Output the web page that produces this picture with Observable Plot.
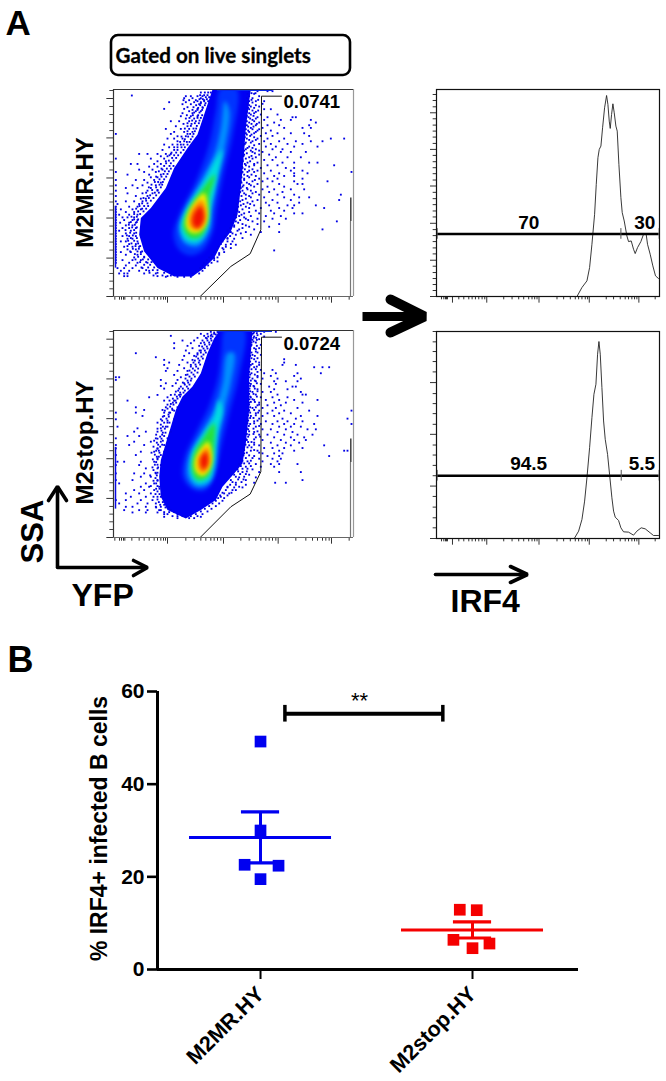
<!DOCTYPE html>
<html><head><meta charset="utf-8">
<script src="https://cdn.jsdelivr.net/npm/d3@7"></script>
<script src="https://cdn.jsdelivr.net/npm/@observablehq/plot@0.6"></script>
<style>html,body{margin:0;background:#fff}#fig{position:relative;width:666px;height:1081px;overflow:hidden}
#fig svg{position:absolute;overflow:visible;background:transparent}</style>
</head><body><div id="fig"></div>
<script>
// ---------- Flow cytometry: channel read-offs (x, y grow right, down) ----------
const pseudoColors = ["#0000f5","#0034ff","#0090ff","#00e0e0","#28e038","#f4f000","#ff8a00","#f01000"];
const contours1 = [
 [[636,262],[610,340],[590,400],[560,440],[520,500],[495,560],[450,620],[420,650],[415,700],[430,750],[470,800],[520,825],[575,825],[610,800],[640,770],[660,730],[690,690],[710,640],[720,560],[730,450],[735,380],[745,300],[750,262]],
 [[660,262],[645,330],[625,430],[585,540],[535,640],[518,700],[535,745],[570,762],[608,745],[636,690],[648,620],[668,520],[696,400],[708,262]],
 [[672,300],[660,380],[640,460],[600,540],[550,630],[535,680],[550,725],[590,735],[625,690],[632,620],[650,530],[672,440],[686,330]],
 [[664,445],[610,540],[555,630],[540,680],[555,715],[590,722],[620,680],[630,620],[647,540]],
 [[642,520],[600,570],[560,630],[548,680],[570,710],[600,705],[620,660],[625,590]],
 [[610,575],[570,620],[555,665],[565,690],[590,695],[615,670],[620,620]],
 [[603,595],[580,615],[565,650],[570,680],[590,685],[605,675],[615,640]],
 [[600,615],[578,640],[575,665],[585,680],[598,675],[610,650]]
];
const contours2 = [
 [[660,58],[640,85],[620,130],[600,190],[575,230],[545,260],[525,300],[510,350],[495,400],[480,450],[475,500],[480,560],[500,600],[555,625],[600,600],[645,570],[665,530],[700,490],[725,460],[735,400],[745,300],[745,200],[752,100],[755,58]],
 [[672,58],[662,120],[652,200],[624,290],[584,370],[552,440],[546,500],[572,535],[610,542],[636,510],[652,450],[668,380],[688,300],[714,200],[730,58]],
 [[680,130],[665,220],[640,300],[600,370],[565,440],[560,500],[585,530],[620,525],[645,470],[650,400],[670,300],[690,220],[700,130]],
 [[655,270],[640,320],[610,370],[575,430],[570,490],[590,520],[625,510],[640,450],[650,370],[665,300]],
 [[640,340],[610,380],[580,430],[575,485],[590,510],[620,500],[632,460],[640,400]],
 [[622,395],[600,415],[582,450],[585,485],[605,498],[625,480],[634,440]],
 [[618,410],[605,425],[592,445],[592,475],[605,488],[620,475],[628,445]],
 [[615,425],[608,432],[600,445],[600,465],[607,478],[617,470],[622,450]]
];
const gate1 = [[598,885],[690,795],[748,757],[780,685],[782,285],[842,285]];
const gate2 = [[598,682],[690,590],[748,552],[780,485],[782,82],[842,82]];
// each row: y channel, then the x channels of the sparse events on it
const events1 = [
[270,745,770,800,815],[278,740,760],[283,393],[285,555,570,590,605,745,775],[291,550,575,600,738,755],[297,548,565,585,610],[300,745,765,790],[303,505,555,580,600],[308,740,785],[309,545,570,595],[316,750,775],[318,560,578,605],[323,490,550,590],[324,745,790,810],[330,565,585,600],[332,738,765],[336,545,575],[340,750,780,830],[345,540,570,590],[348,743,770,800,875,885],[352,555,580],[356,755,790,840,870,930],[360,510,535,565,585],[364,745,775,820,945],[368,548,572],[372,738,765,800,835,925],[375,525,560],[380,750,785,850,905,930],[383,495,540,565],[388,742,770,810],[392,520,550,575],[396,735,760,795,830,870,910],[398,345,510,560],[404,748,780,815,925],[405,530,555],[412,500,520,545,738,770,800,850,990,1030],[420,530,550,755,790,835,885,930,965],[428,732,775,810,860,905],[430,490,515,540],[436,745,795,825,880,950],[438,505,530],[444,735,765,815,845],[446,485,520],[452,755,785,840,870,915],[458,415,440,470,495,510],[460,730,775,805],[465,480,500],[468,745,765,825,860,900],[472,345,450,490],[476,725,790,815],[480,470,495],[484,740,770,845,880,925,950],[488,390,410,460,480],[492,735,760,800,830,1000],[496,445,470],[500,725,780,855,880],[505,415,455,485],[508,745,770,810,870,905],[512,345,430,465,1052],[516,722,790,835,880,920],[520,380,445,480],[524,740,765,820,850,880],[528,450,470],[532,730,775,800,830,905],[536,345,405,430,460],[540,720,755,785,815,880,980],[544,440,480],[548,745,770,835,890,905],[552,345,395,425,465],[556,725,760,800,850],[560,375,410,450],[564,740,785,820,870,910],[568,345,440,470],[572,718,765,805,845],[576,380,425,455],[580,735,775,830,880,1020],[584,345,405,440],[588,750,790,850,895,925],[592,420,435],[596,725,770,815,870,1015],[600,345,375,400,425],[604,740,795,830,895],[608,350,415],[612,720,760,805,860,880,945],[616,345,385,410],[620,745,780,835,875,970],[624,345,360,395,420],[628,710,765,810,850],[632,345,375,400],[636,730,775,820,880,905],[640,345,355,385,410],[644,715,750,795,840],[648,345,365,380,400],[652,735,770,815,855],[656,345,370,395,410],[660,705,755,790,1008],[664,345,358,385,405],[668,725,770,835],[672,345,375,395],[676,700,745,805],[680,345,365,385,405],[684,715,760,965],[688,345,355,390],[692,690,735,780,835],[696,345,375,400],[700,705,750],[704,345,365,385,405],[710,680,725],[712,345,380,395],[720,345,360,375,410,695],[728,345,385,405],[730,675,705],[736,345,370,395,415],[740,665,690],[744,345,380,405],[747,820],[752,345,360,390,420],[755,655],[760,345,375,410],[768,345,400,430],[770,640],[776,345,365,395,420],[780,650],[784,345,385,410,440],[792,375,405],[800,350,370,395,425],[808,360,385,415,445],[816,355,370,380,430,465],[824,370,380,470,500]
];
const edge1 = [
[274,600,612,622,630],[282,598,610,620],[288,615,625],[294,596,606,618],[300,590,610,622],[306,600,614],[312,586,598,612],[320,592,606],[326,575,590,604],[334,580,596],[342,558,576,592,604],[350,566,590,600],[358,574,596],[366,560,582,594],[374,570,588],[382,552,578,586],[390,560,582],[398,568,578],[406,542,562,575],[414,552,570],[422,538,558,566],[430,530,548,560],[438,520,542,552],[446,530,548],[454,512,526,540],[462,506,520,532],[470,514,526],[478,504,518],[486,496,510],[494,490,506,518],[502,482,498,510],[510,474,492,504],[518,488,500],[526,466,482,496],[534,476,490],[542,462,472,486],[550,452,476,484],[558,444,466,480],[566,454,470],[574,436,462,474],[582,448,466],[590,428,444,458],[598,436,450],[606,424,440],[614,416,430,442],[622,406,424,436],[630,412,428],[638,400,418],[646,392,408],[654,400,412],[662,390,408],[670,384,402],[678,394,408],[686,374,400],[694,388,406],[702,378,396],[710,390,408],[718,382,400],[726,392,412],[734,380,404,418],[742,396,414],[750,388,410,424],[758,402,420],[766,412,430],[774,404,426,442],[782,418,436,452],[790,430,448],[798,422,442,460],[806,436,456,470],[814,446,470,490],[822,458,485,510],[826,495,530,550,570],
[276,752,764],[296,752,772],[304,755],[312,745,765],[320,742,760],[328,755,772],[336,745,760],[344,738,758],[352,748,765],[360,738,760],[368,752,768],[376,742,758],[384,735,755,775],[392,745,765],[400,738,752],[408,732,760],[416,745,765],[424,735,750],[432,728,760],[440,740,755],[448,730,750,775],[456,738,762],[464,728,752],[472,735,755],[480,726,748],[488,732,760],[496,724,745],[504,732,755],[512,725,740,760],[520,730,752],[528,722,745],[536,730,762],[544,722,738],[552,728,750],[560,720,738],[568,725,750],[576,715,730,755],[584,722,745],[592,712,735],[600,718,755],[608,708,728,748],[616,712,735],[624,705,725],[632,715,745],[640,700,722],[648,706,730],[656,698,718,742],[664,692,712],[672,700,735],[680,688,725],[688,680,710],[696,695,720],[704,672,688],[712,680,700],[720,665,680],[728,660,690],[736,652,675],[744,648,668],[752,640,670],[760,632,655],[768,625,650],[776,618,640],[784,610,632],[792,605,622],[800,598,612],[808,585,605],[816,575,595]
];
const events2 = [
[66,630,650,760,790,825],[72,600,620,640,755,780],[78,510,610,630],[80,760,790],[84,590,615],[88,750,775],[92,545,580,605],[95,758],[100,520,570,600],[105,752,780],[108,560,595],[115,520,575,760,775],[122,555,600],[125,765],[130,405,565,590],[135,755,780],[138,550,580],[142,465],[148,760,850],[150,490,545,575],[158,505,560,775,850],[165,490,535,570,750,775,845,885],[172,760,940,965,985],[175,500,550],[180,780,815],[183,495,530,560],[190,752,790,825,890,960],[195,520,555],[198,770,810,880],[202,345,355,540],[206,755,785,830,900],[210,345,480,530],[214,765,820,855,890],[220,495,525,550],[222,750,780,825],[228,480,515],[230,760,805,875,885],[236,490,535],[238,770,820,860],[245,525],[246,755,785,810,900],[254,765,830,905,915],[255,470,510,535],[262,445,500,750,780,815,860],[270,760,795,835,880,950],[272,380,490,520],[278,745,775,820,855,905],[282,510],[286,770,800,840],[292,405,495,530],[294,755,785,825,890],[300,430,485,515],[302,745,775,815,850,925,1052],[308,345,405,505],[310,765,800,835,870],[318,425,490,750,785,820,900,950],[326,740,775,845,885,1040],[328,345,480,520],[334,760,795,830,860,905],[338,470,500],[342,748,780,815,850,880,940,1052],[350,350,495,765,835,870,900],[355,410,480],[358,742,785,810,855,920,945],[365,400,435,470,510],[366,760,830,875],[374,745,775,800,850,890,935],[378,380,415,490],[382,765,820,870,910],[385,345,465,500],[390,738,785,840,880,915],[395,400,450,480],[398,760,810,855,895],[405,345,385,430,490],[406,745,775,830,870,970],[414,725,790,815,850,905],[415,345,470],[422,750,770,835,880,1030,1040],[425,420,460,490],[430,730,785,820,845],[435,345,405,480],[438,760,800,835,985],[445,470],[446,720,775,815,840],[454,740,785,830],[455,350,370,420,460],[462,715,765,810,835,890],[465,345,415,480],[470,735,780,820],[475,435,470],[478,710,755],[486,725,775,835,900],[490,345,400,430,465],[494,700,745],[500,420,450],[502,715,765],[510,345,395,470,690,735,905],[518,705,760,823,855],[520,355,435,460],[530,420,445,475,680,715],[540,400,430,460,695],[550,375,415,450,670,685],[560,390,435,470,660],[570,345,375,420,455],[580,355,410,440,465],[590,375,395,435,465,480],[600,370,415,440,475],[607,395,435,470],[612,490],[620,490,555,600]
];
const edge2 = [
[68,640,652],[74,632,645],[80,622,635],[86,618,630],[92,620,632],[98,610,625],[104,612,626],[110,604,618],[116,608,620],[122,596,612],[128,600,615],[134,590,608],[140,586,602],[146,592,606],[152,582,596],[158,578,594],[164,584,598],[170,570,586],[176,576,592],[182,566,582],[188,572,590],[194,560,578],[200,566,582],[206,554,572],[212,560,570],[218,546,562],[224,552,566],[230,540,558],[236,546,562],[242,532,552],[248,538,548],[254,522,540],[260,528,538],[266,516,530],[272,506,524],[278,516,526],[284,500,518],[290,508],[296,500,514],[302,492,520],[308,490,508],[314,503],[320,486,504],[326,497],[332,484,500],[338,490,506],[344,480],[350,486,500],[356,470,492],[362,482],[368,486,494],[374,466,484],[380,478],[386,470,482],[392,460,486],[398,468],[404,472,484],[410,458,478],[416,470],[422,466,474],[428,452,476],[434,462],[440,468,474],[448,456,470],[456,466],[464,462,470],[472,455,472],[480,458],[488,464,470],[496,448,468],[504,464],[512,458,470],[520,466],[528,450,470],[536,466,476],[544,470],[552,464,476],[560,458,480],[568,470],[576,474,486],[584,478,490],[592,466,494,505],[600,480,510],[606,490,505,520],[612,500,530],[618,515,530,545],[624,530,565,580],
[70,758,768],[76,752,770],[84,758,766],[90,755,768],[98,752,765],[108,750,768],[118,748,765],[128,752,770],[138,748,762],[145,752,770],[155,748,765],[162,755],[170,746,768],[178,752,765],[186,745,770],[194,748,762],[202,746,770],[212,750,762],[220,745,768],[228,748,758],[236,746,762],[244,748,770],[252,745,758],[260,748,768],[268,746,755],[276,750,762],[284,745,775],[292,748,765],[300,744,760],[308,748,772],[316,742,765],[324,748,758],[332,742,770],[340,740,760],[348,744,775],[356,738,758],[364,745,770],[372,738,758],[380,742,778],[388,736,760],[396,742,752],[404,734,760],[412,740,752],[420,730,760],[428,738,775],[436,728,745],[444,735,755],[452,725,750],[460,730,745],[468,720,750],[476,725,740],[484,712,738],[492,718,735],[500,705,730],[508,712,728],[516,695,722],[524,688,705,735],[532,680,700,725],[540,675,705],[548,665,692],[556,658,680],[564,652,670],[572,645,665],[580,635,655],[588,625,645],[596,612,632],[604,600,620],[612,585,605],[618,570,590]
];
const xTickMinor = [342,356,362,368,372,393,415,430,445,460,470,480,488,494,555,580,600,615,630,640,650,660,720,745,765,780,795,805,815,825,885,915,935,950,965,975,985,1045];
const xTickMajor = [500,668,832,992];
const yTickMajor1 = [292,410,530,650,770,885];
const yTickMinor1 = [268,316,340,364,388,434,458,482,506,554,578,602,626,674,698,722,746,793,816,839,862];
const yTickMajor2 = [88,207,326,446,565,682];
const yTickMinor2 = [65,112,136,160,184,231,255,279,303,350,374,398,422,470,494,518,542,589,612,635,658];

// ---------- IRF4 histograms ----------
const hist1 = [[258,677],[680,677],[695,650],[710,630],[718,590],[725,520],[733,430],[738,340],[743,260],[747,235],[752,225],[757,170],[763,110],[769,73],[773,100],[777,150],[780,172],[784,130],[788,98],[792,125],[797,165],[801,180],[806,280],[812,380],[816,425],[822,450],[830,495],[835,512],[843,510],[850,535],[855,548],[862,530],[872,512],[880,490],[888,490],[892,520],[900,550],[908,585],[916,615],[925,623]];
const hist2 = [[258,682],[672,682],[685,660],[695,625],[703,570],[710,500],[718,410],[725,320],[731,250],[737,220],[742,130],[746,92],[750,130],[755,230],[760,330],[765,385],[772,430],[778,490],[785,560],[790,600],[795,618],[805,628],[812,650],[820,662],[835,663],[850,672],[860,660],[873,650],[885,653],[900,665],[910,673],[925,673]];
const histXMinor = [273,280,285,288,291,325,340,355,365,375,385,395,403,460,485,505,520,535,545,553,560,620,640,660,675,685,695,705,712,768,790,810,825,835,845,853,860,915];
const histXMajor = [306,409,566,717,866];
const histY1Major = [125,235,345,457,568,677];
const histY1Minor = [70,88,107,143,162,180,198,217,253,272,290,308,327,364,383,401,420,438,476,494,512,531,549,586,605,623,641,659];
const histY2Major = [215,370,525,682];
const histY2Minor = [62,93,122,152,183,248,278,308,340,402,432,463,494,556,588,620,650];
const histGates = [{y:489,cut:812,labels:["70","30"],lx:[535,884],ly:473},{y:494,cut:813,labels:["94.5","5.5"],lx:[535,875],ly:477}];

// ---------- Panel B ----------
const groups = ["M2MR.HY","M2stop.HY"];
const means = [28.5,8.5];
const semHigh = [34,10.3];
const semLow = [23,6.8];
const colors = ["#0000f0","#f50000"];
const replicateGroup = [0,0,0,0,0,1,1,1,1,1];
const replicatePos = [1,1,0.925,1.085,1,1.94,2.02,1.91,2,2.08];
const replicateVal = [49.2,30,22.6,22.4,19.5,12.9,12.8,6.4,4.6,5.6];

// ---------- Annotations (figure coordinates) ----------
const sans = "Liberation Sans, Arial, sans-serif";
const fig = document.getElementById("fig");
function place(svg,left,top){svg.style.left=left+"px";svg.style.top=top+"px";fig.appendChild(svg);}
const pts = a=>a.map(([x,y])=>({x,y}));
const expand = rows=>rows.flatMap(([y,...xs])=>xs.map(x=>({x,y})));

function scatter(yd,contours,events,gate,yMaj,yMin,top){
  const ml=8,mt=2,mb=9,mr=2,W=240,H=207;
  const [yb,yt]=yd;
  const marks=[];
  contours.forEach((c,i)=>marks.push(Plot.line(pts(c),{x:"x",y:"y",fill:pseudoColors[i],stroke:"none",curve:i==0?"linear":"catmull-rom-closed",clip:true,imageFilter:i==0?"blur(0.5px)":"blur(2.2px)"})));
  marks.push(
    Plot.dot(expand(events),{x:"x",y:"y",symbol:"square",r:1.05,fill:"#0000e6",stroke:"none"}),
    Plot.ruleY([yt+2],{x1:650,x2:815,stroke:"#0a2ae6",strokeWidth:1.5}),
    Plot.ruleX([344],{y1:yb-270,y2:yb-85,stroke:"#0a0ae6",strokeWidth:1.5}),
    Plot.line(pts(gate),{x:"x",y:"y",stroke:"#111",strokeWidth:1}),
    Plot.ruleX([1050],{y1:yb-295,y2:yb-225,stroke:"#111",strokeWidth:1.2}),
    Plot.ruleX([1049],{y1:yb-225,y2:yb,stroke:"#777",strokeWidth:1.2}),
    Plot.ruleX(xTickMinor,{y1:yb,y2:yb+11,stroke:"#333",strokeWidth:1}),
    Plot.ruleX(xTickMajor,{y1:yb,y2:yb+20,stroke:"#333",strokeWidth:1}),
    Plot.ruleY(yMin,{x1:327,x2:338,stroke:"#444",strokeWidth:1}),
    Plot.ruleY(yMaj,{x1:318,x2:338,stroke:"#333",strokeWidth:1}),
    Plot.ruleX([1058],{y1:yb,y2:yt,stroke:"#999",strokeWidth:1.2}),
    Plot.ruleY([yt],{x1:338,x2:1058,stroke:"#333",strokeWidth:1.2}),
    Plot.ruleY([yb],{x1:338,x2:1058,stroke:"#666",strokeWidth:1.2}),
    Plot.ruleX([338],{y1:yb,y2:yt,stroke:"#333",strokeWidth:1.2})
  );
  const svg=Plot.plot({width:W+ml+mr,height:H+mt+mb,marginLeft:ml,marginRight:mr,marginTop:mt,marginBottom:mb,
    x:{domain:[338,1058],axis:null},y:{domain:[yb,yt],axis:null},marks});
  place(svg,113-ml,top-mt);
}
scatter([885,265],contours1,events1.concat(edge1),gate1,yTickMajor1,yTickMinor1,88.5);
scatter([682,62],contours2,events2.concat(edge2),gate2,yTickMajor2,yTickMinor2,330);

function histogram(top,yd,curve,yMaj,yMin,g){
  const ml=8,mt=2,mb=9,mr=2,W=223,H=207;
  const [yb,yt]=yd;
  const svg=Plot.plot({width:W+ml+mr,height:H+mt+mb,marginLeft:ml,marginRight:mr,marginTop:mt,marginBottom:mb,
    x:{domain:[258,928],axis:null},y:{domain:[yb,yt],axis:null},
    marks:[
      Plot.line(pts(curve),{x:"x",y:"y",stroke:"#222",strokeWidth:0.9}),
      Plot.ruleY([g.y],{x1:260,x2:927,stroke:"#000",strokeWidth:2.4}),
      Plot.ruleX([260,g.cut,927],{y1:g.y-16,y2:g.y+16,stroke:"#555",strokeWidth:1}),
      Plot.text(g.labels,{x:(d,i)=>g.lx[i],y:()=>g.ly,text:d=>d,fontFamily:sans,fontWeight:"bold",fontSize:19,fill:"#000",lineAnchor:"bottom",textAnchor:"middle"}),
      Plot.ruleX(histXMinor,{y1:yb,y2:yb+10,stroke:"#333",strokeWidth:1}),
      Plot.ruleX(histXMajor,{y1:yb,y2:yb+20,stroke:"#333",strokeWidth:1}),
      Plot.ruleY(yMin,{x1:248,x2:258,stroke:"#333",strokeWidth:1}),
      Plot.ruleY(yMaj,{x1:240,x2:258,stroke:"#333",strokeWidth:1}),
      Plot.frame({stroke:"#111",strokeWidth:1.2})
    ]});
  place(svg,436-ml,top-mt);
}
histogram(88.5,[677,55],hist1,histY1Major,histY1Minor,histGates[0]);
histogram(330.5,[682,62],hist2,histY2Major,histY2Minor,histGates[1]);

// Panel B
const pos=[1,2];
const plotB=Plot.plot({width:666,height:441,marginLeft:157,marginRight:88,marginTop:51,marginBottom:112,
  x:{domain:[0.514,2.5],axis:null},y:{domain:[0,60],axis:null},
  marks:[
    Plot.ruleY(means,{x1:(d,i)=>pos[i]-0.335,x2:(d,i)=>pos[i]+0.335,stroke:(d,i)=>colors[i],strokeWidth:3}),
    Plot.ruleX(pos,{y1:(d,i)=>semLow[i],y2:(d,i)=>semHigh[i],stroke:(d,i)=>colors[i],strokeWidth:3}),
    Plot.ruleY(semHigh,{x1:(d,i)=>pos[i]-0.09,x2:(d,i)=>pos[i]+0.09,stroke:(d,i)=>colors[i],strokeWidth:3.2}),
    Plot.ruleY(semLow,{x1:(d,i)=>pos[i]-0.09,x2:(d,i)=>pos[i]+0.09,stroke:(d,i)=>colors[i],strokeWidth:3.2}),
    Plot.dot(replicateVal,{x:(d,i)=>replicatePos[i],y:d=>d,symbol:"square",r:6.6,stroke:"none",fill:(d,i)=>colors[replicateGroup[i]]}),
    Plot.ruleY([55.2],{x1:1.115,x2:1.86,stroke:"#000",strokeWidth:4}),
    Plot.ruleX([1.115,1.86],{y1:53.4,y2:57,stroke:"#000",strokeWidth:3.5}),
    Plot.text(["**"],{x:()=>1.467,y:()=>58.0,text:d=>d,fontFamily:sans,fontSize:22,fill:"#000",lineAnchor:"middle"}),
    Plot.axisY({ticks:[0,20,40,60],tickSize:10,strokeWidth:2.6,tickPadding:3,label:null,fontSize:21,fontWeight:"bold",fontFamily:sans,color:"#000"}),
    Plot.axisX({ticks:pos,tickSize:10,strokeWidth:2,tickPadding:11,tickRotate:-45,label:null,tickFormat:d=>groups[d-1],fontSize:21.5,fontWeight:"bold",fontFamily:sans,color:"#000"}),
    Plot.ruleX([0.514],{y1:0,y2:60,stroke:"#000",strokeWidth:3}),
    Plot.ruleY([0],{x1:0.514,x2:2.5,stroke:"#000",strokeWidth:3})
  ]});
place(plotB,0,640);

// Overlay annotations in figure coordinates
const chevrons=[
 {id:"big",w:9,p:[[362,316],[425,316]]},{id:"bigHead",w:10,p:[[390,299],[424,316],[390,332]]},
 {id:"ssa",w:3.6,p:[[57,566],[57,487]]},{id:"ssaH",w:3.6,p:[[48,500],[57,486],[66,500]]},
 {id:"yfp",w:3.6,p:[[57,567],[146,567]]},{id:"yfpH",w:3.6,p:[[133,560],[147,567],[133,575]]},
 {id:"irf",w:3.6,p:[[435,574],[526,574]]},{id:"irfH",w:3.6,p:[[510,566],[527,574],[510,582]]}
];
const headlines=[
 {t:"A",x:5,y:36,s:35},{t:"B",x:7,y:673,s:36},{t:"YFP",x:71,y:607,s:32},{t:"IRF4",x:450,y:613,s:32},
 {t:"0.0741",x:283,y:109,s:18.5},{t:"0.0724",x:283,y:351,s:18.5}
];
const vertical=[
 {t:"M2MR.HY",x:92,y:192,s:24},{t:"M2stop.HY",x:92,y:442,s:24},{t:"SSA",x:42,y:531,s:31},{t:"% IRF4+ infected B cells",x:106,y:828,s:23}
];
const overlay=Plot.plot({width:666,height:1081,margin:0,x:{domain:[0,666],axis:null},y:{domain:[1081,0],axis:null},
  marks:[
    Plot.rect([0],{x1:()=>111,x2:()=>350,y1:()=>35,y2:()=>75,rx:7,fill:"none",stroke:"#000",strokeWidth:2.6}),
    Plot.text(["Gated on live singlets"],{x:()=>115,y:()=>62,text:d=>d,textAnchor:"start",lineAnchor:"bottom",fontFamily:"Lato, Carlito, sans-serif",fontWeight:"bold",fontSize:20.6,fill:"#000",stroke:"#000",strokeWidth:0.3}),
    ...chevrons.map(c=>Plot.line(pts(c.p),{x:"x",y:"y",stroke:"#000",strokeWidth:c.w,strokeLinecap:c.id=="big"?"butt":"round",strokeLinejoin:"miter"})),
    Plot.text(headlines,{x:"x",y:"y",text:"t",fontSize:"s",textAnchor:"start",lineAnchor:"bottom",fontFamily:sans,fontWeight:"bold",fill:"#000",dy:-2}),
    Plot.text(vertical,{x:"x",y:"y",text:"t",fontSize:"s",rotate:-90,textAnchor:"middle",lineAnchor:"bottom",fontFamily:sans,fontWeight:"bold",fill:"#000"})
  ]});
overlay.style.left="0";overlay.style.top="0";overlay.style.pointerEvents="none";fig.appendChild(overlay);
</script></body></html>
